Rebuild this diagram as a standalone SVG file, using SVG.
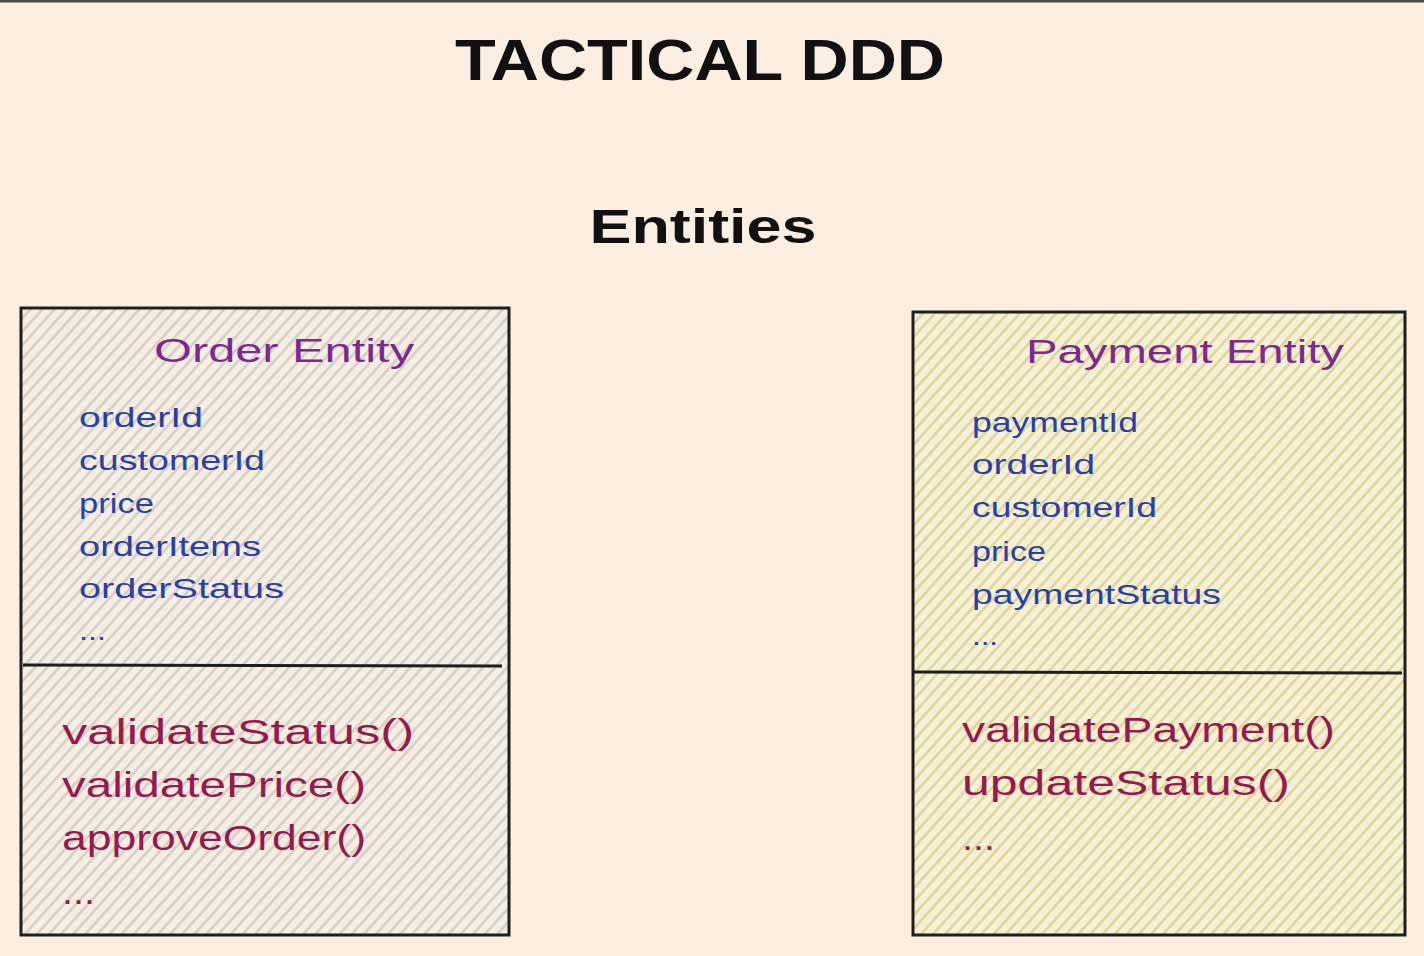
<svg xmlns="http://www.w3.org/2000/svg" width="1424" height="956" viewBox="0 0 1424 956">
  <style>
    .title { font-family: "Liberation Sans", Arial, sans-serif; font-weight: bold; fill: #111111; }
    .head { font-family: "Liberation Sans", Arial, sans-serif; font-size: 34px; fill: #7d2a8f; }
    .field { font-family: "Liberation Sans", Arial, sans-serif; font-size: 28px; fill: #2b3fa6; }
    .method { font-family: "Liberation Sans", Arial, sans-serif; font-size: 35px; fill: #961b4c; }
    .box { stroke: #1e1e1e; stroke-width: 3; }
    .div { stroke: #1e1e1e; stroke-width: 3; fill: none; }
  </style>
  <defs>
    <pattern id="hatchGray" patternUnits="userSpaceOnUse" width="9" height="9" patternTransform="rotate(-48)">
      <rect width="9" height="9" fill="#f6eee3"/>
      <line x1="0" y1="4.5" x2="9" y2="4.5" stroke="#d4cfc7" stroke-width="2.6"/>
    </pattern>
    <pattern id="hatchYellow" patternUnits="userSpaceOnUse" width="9" height="9" patternTransform="rotate(-48)">
      <rect width="9" height="9" fill="#f8efd8"/>
      <line x1="0" y1="4.5" x2="9" y2="4.5" stroke="#d9d996" stroke-width="2.6"/>
    </pattern>
  </defs>

  <rect x="0" y="0" width="1424" height="956" fill="#fcefe1"/>
  <rect x="0" y="0" width="1424" height="2.5" fill="#4a4a4a"/>

  <g id="title">
    <text class="title" x="700" y="80" font-size="58" text-anchor="middle" textLength="490" lengthAdjust="spacingAndGlyphs">TACTICAL DDD</text>
    <text class="title" x="703" y="243" font-size="48" text-anchor="middle" textLength="227" lengthAdjust="spacingAndGlyphs">Entities</text>
  </g>

  <g id="order-entity">
    <rect class="box" x="21" y="308" width="488" height="627" fill="url(#hatchGray)"/>
    <path class="div" d="M23 665 L502 666"/>
    <text class="head" x="154" y="362" textLength="260" lengthAdjust="spacingAndGlyphs">Order Entity</text>
    <text class="field" x="79" y="427" textLength="124" lengthAdjust="spacingAndGlyphs">orderId</text>
    <text class="field" x="79" y="470" textLength="186" lengthAdjust="spacingAndGlyphs">customerId</text>
    <text class="field" x="79" y="513" textLength="75" lengthAdjust="spacingAndGlyphs">price</text>
    <text class="field" x="79" y="556" textLength="182" lengthAdjust="spacingAndGlyphs">orderItems</text>
    <text class="field" x="79" y="598" textLength="205" lengthAdjust="spacingAndGlyphs">orderStatus</text>
    <text class="field" x="79" y="640" textLength="27" lengthAdjust="spacingAndGlyphs">...</text>
    <text class="method" x="62" y="744" textLength="352" lengthAdjust="spacingAndGlyphs">validateStatus()</text>
    <text class="method" x="62" y="797" textLength="304" lengthAdjust="spacingAndGlyphs">validatePrice()</text>
    <text class="method" x="62" y="850" textLength="304" lengthAdjust="spacingAndGlyphs">approveOrder()</text>
    <text class="method" x="62" y="904" textLength="33" lengthAdjust="spacingAndGlyphs">...</text>
  </g>

  <g id="payment-entity">
    <rect class="box" x="913" y="312" width="492" height="623" fill="url(#hatchYellow)"/>
    <path class="div" d="M914 672 L1402 673"/>
    <text class="head" x="1026" y="363" textLength="318" lengthAdjust="spacingAndGlyphs">Payment Entity</text>
    <text class="field" x="972" y="432" textLength="166" lengthAdjust="spacingAndGlyphs">paymentId</text>
    <text class="field" x="972" y="474" textLength="123" lengthAdjust="spacingAndGlyphs">orderId</text>
    <text class="field" x="972" y="517" textLength="185" lengthAdjust="spacingAndGlyphs">customerId</text>
    <text class="field" x="972" y="561" textLength="74" lengthAdjust="spacingAndGlyphs">price</text>
    <text class="field" x="972" y="604" textLength="249" lengthAdjust="spacingAndGlyphs">paymentStatus</text>
    <text class="field" x="972" y="645" textLength="26" lengthAdjust="spacingAndGlyphs">...</text>
    <text class="method" x="962" y="742" textLength="373" lengthAdjust="spacingAndGlyphs">validatePayment()</text>
    <text class="method" x="962" y="795" textLength="328" lengthAdjust="spacingAndGlyphs">updateStatus()</text>
    <text class="method" x="962" y="850" textLength="33" lengthAdjust="spacingAndGlyphs">...</text>
  </g>

  <g id="connectors"></g>
</svg>
